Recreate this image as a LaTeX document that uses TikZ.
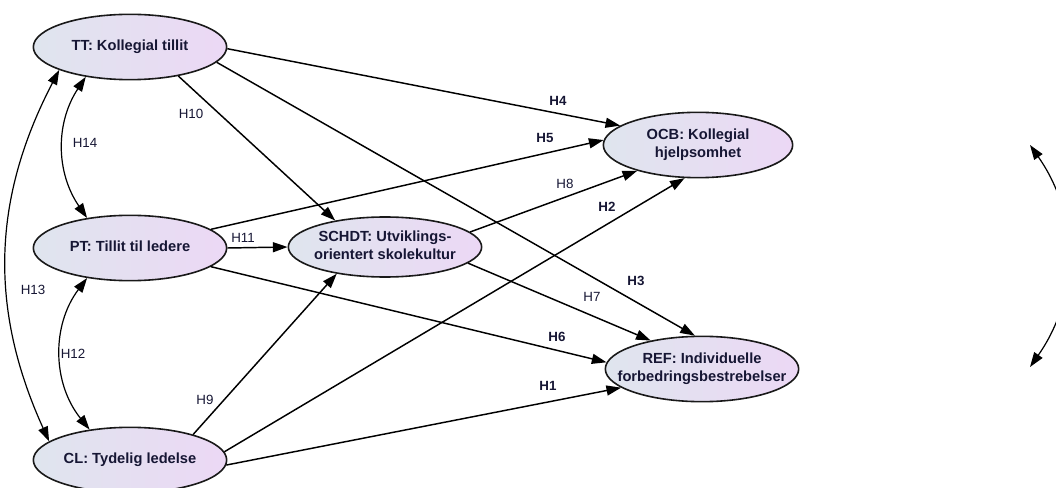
\documentclass[tikz,border=0pt]{standalone}
\usepackage{fontspec}
\setmainfont{Liberation Sans}
\usetikzlibrary{shapes.geometric,arrows.meta}

\definecolor{txtblue}{RGB}{22,22,52}
\definecolor{shadeleft}{RGB}{223,229,238}
\definecolor{shaderight}{RGB}{236,216,245}

\newcommand{\lvtext}[1]{\makebox[0pt]{\begin{tabular}{@{}c@{}}#1\end{tabular}}}

\begin{document}
\begin{tikzpicture}[x=0.75pt, y=-0.75pt,
	latent/.style={ellipse, draw=black!90, line width=1.2pt, left color=shadeleft, right color=shaderight, minimum width=145pt, minimum height=49pt, inner sep=0pt, text=txtblue, font=\fontsize{11}{13.5}\selectfont\bfseries},
	hyp/.style={text=txtblue, inner sep=1pt, font=\fontsize{10}{12}\selectfont},
	hypbold/.style={hyp, font=\fontsize{10}{12}\selectfont\bfseries},
	link/.style={-{Triangle[length=11pt,width=7.5pt]}, line width=1.1pt},
	cov/.style={{Triangle[length=11pt,width=7.5pt]}-{Triangle[length=11pt,width=7.5pt]}, line width=0.9pt}]

	\path[use as bounding box] (0,0) rectangle (1056,488);
	\clip (0,0) rectangle (1056,488);

	\node[latent] (TT) at (130,47) {\lvtext{TT: Kollegial tillit}};
	\node[latent] (PT) at (130,248) {\lvtext{PT: Tillit til ledere}};
	\node[latent] (CL) at (130,460) {\lvtext{CL: Tydelig ledelse}};
	\node[latent, minimum height=45pt] (SCHDT) at (385,247) {\lvtext{SCHDT: Utviklings-\\orientert skolekultur}};
	\node[latent, minimum width=142pt] (OCB) at (698,145) {\lvtext{OCB: Kollegial\\hjelpsomhet}};
	\node[latent] (REF) at (702,369) {\lvtext{REF: Individuelle\\forbedringsbestrebelser}};

	\draw[link] (TT.-1) -- (OCB.166);
	\draw[link] (TT.-10) -- (REF.102);
	\draw[link] (TT.-31) -- (SCHDT.152);
	\draw[link] (PT.13) -- (OCB.177);
	\draw[link] (PT.east) -- (SCHDT.west);
	\draw[link] (PT.-13) -- (REF.176);
	\draw[link] (SCHDT.10) -- (OCB.203);
	\draw[link] (SCHDT.-11) -- (REF.151);
	\draw[link] (CL.22) -- (SCHDT.209);
	\draw[link] (CL.5) -- (OCB.248);
	\draw[link] (CL.-3) -- (REF.193);

	\draw[cov] (TT.214) to[bend right=34] (PT.145);
	\draw[cov] (PT.215) to[bend right=38] (CL.143);
	\draw[cov] (TT.198) to[bend right=26] (CL.167);

	\coordinate (covtop) at (1030,145);
	\coordinate (covbot) at (1030,367);
	\draw[cov] (covtop) to[bend left=35] (covbot);

	\node[hypbold] (h4) at (558,101) {H4};
	\node[hypbold] (h5) at (545,138) {H5};
	\node[hyp] (h8) at (565,184) {H8};
	\node[hypbold] (h2) at (607,207) {H2};
	\node[hypbold] (h3) at (636,281) {H3};
	\node[hyp] (h7) at (592,297) {H7};
	\node[hypbold] (h6) at (557,337) {H6};
	\node[hypbold] (h1) at (548,386) {H1};
	\node[hyp] (h10) at (191,114) {H10};
	\node[hyp] (h11) at (243,238) {H11};
	\node[hyp] (h14) at (85,143) {H14};
	\node[hyp] (h12) at (73,354) {H12};
	\node[hyp] (h13) at (33,290) {H13};
	\node[hyp] (h9) at (205,400) {H9};

\end{tikzpicture}
\end{document}
